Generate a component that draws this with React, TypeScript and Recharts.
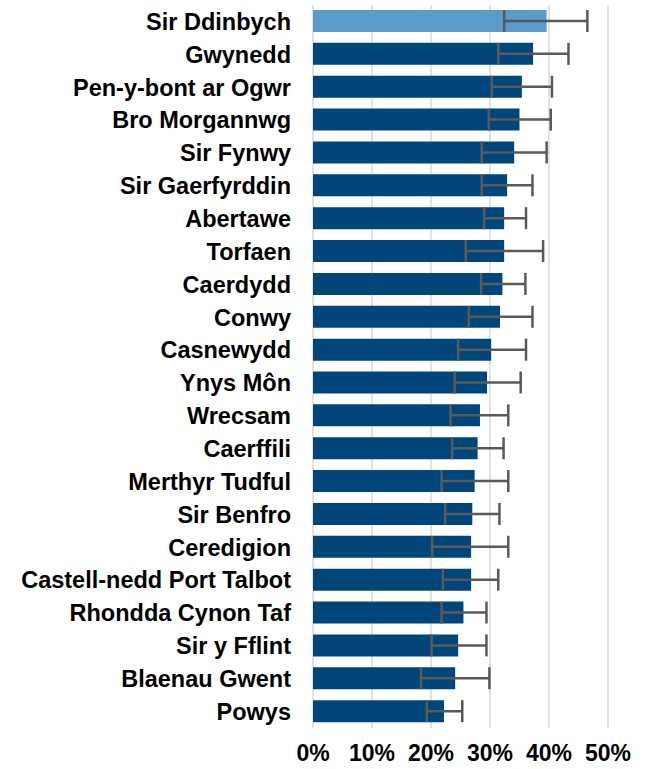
import { BarChart, Bar, XAxis, YAxis, CartesianGrid, ErrorBar, Cell } from "recharts"

// ─── Data ─────────────────────────────────────────────────────────────────────

const AREAS = [
  "Sir Ddinbych", "Gwynedd", "Pen-y-bont ar Ogwr", "Bro Morgannwg", "Sir Fynwy",
  "Sir Gaerfyrddin", "Abertawe", "Torfaen", "Caerdydd", "Conwy", "Casnewydd",
  "Ynys Môn", "Wrecsam", "Caerffili", "Merthyr Tudful", "Sir Benfro", "Ceredigion",
  "Castell-nedd Port Talbot", "Rhondda Cynon Taf", "Sir y Fflint", "Blaenau Gwent", "Powys",
]

const VALUES = [
  39.6, 37.3, 35.4, 35.0, 34.1, 32.9, 32.4, 32.4, 32.1, 31.7, 30.2,
  29.5, 28.3, 27.9, 27.4, 27.0, 26.8, 26.8, 25.5, 24.6, 24.1, 22.2,
]

const LOWER = [
  32.4, 31.4, 30.3, 29.8, 28.6, 28.6, 29.0, 25.9, 28.5, 26.4, 24.6,
  24.0, 23.3, 23.6, 21.8, 22.4, 20.2, 22.0, 21.8, 20.1, 18.3, 19.3,
]

const UPPER = [
  46.5, 43.3, 40.5, 40.3, 39.6, 37.2, 36.1, 39.0, 36.0, 37.2, 36.1,
  35.2, 33.1, 32.3, 33.1, 31.6, 33.1, 31.4, 29.4, 29.4, 29.9, 25.3,
]

const X_TICKS = [0, 10, 20, 30, 40, 50]

const HIGHLIGHT = "Sir Ddinbych"

// ─── Chart ────────────────────────────────────────────────────────────────────

const chartData = AREAS.map((name, i) => ({
  name,
  value: VALUES[i],
  err: [VALUES[i] - LOWER[i], UPPER[i] - VALUES[i]],
}))

const FONT = "'Liberation Sans', Arial, sans-serif"

export default function App() {
  return (
    <div style={{ position: "absolute", left: 0, top: 0, background: "#fff" }}>
      <BarChart
        width={645}
        height={769}
        layout="vertical"
        data={chartData}
        margin={{ top: 5, right: 37, left: 0, bottom: 0 }}
        barSize={22}
      >
        <CartesianGrid horizontal={false} stroke="#d9d9d9" strokeWidth={1.5} />
        <XAxis
          type="number"
          domain={[0, 50]}
          ticks={X_TICKS}
          tickFormatter={(v) => `${v}%`}
          axisLine={false}
          tickLine={false}
          height={41}
          tickMargin={11}
          tick={{ fill: "#000", fontSize: 23, fontWeight: 700, fontFamily: FONT }}
        />
        <YAxis
          type="category"
          dataKey="name"
          width={313}
          axisLine={false}
          tickLine={false}
          tickSize={0}
          tickMargin={22}
          interval={0}
          tick={{ fill: "#000", fontSize: 23.5, fontWeight: 700, fontFamily: FONT }}
        />
        <Bar dataKey="value" isAnimationActive={false}>
          {chartData.map((d, i) => (
            <Cell key={i} fill={d.name === HIGHLIGHT ? "#5b9bca" : "#00467a"} />
          ))}
          <ErrorBar
            dataKey="err"
            direction="x"
            width={11}
            strokeWidth={2.5}
            stroke="#595959"
            isAnimationActive={false}
          />
        </Bar>
      </BarChart>
    </div>
  )
}
